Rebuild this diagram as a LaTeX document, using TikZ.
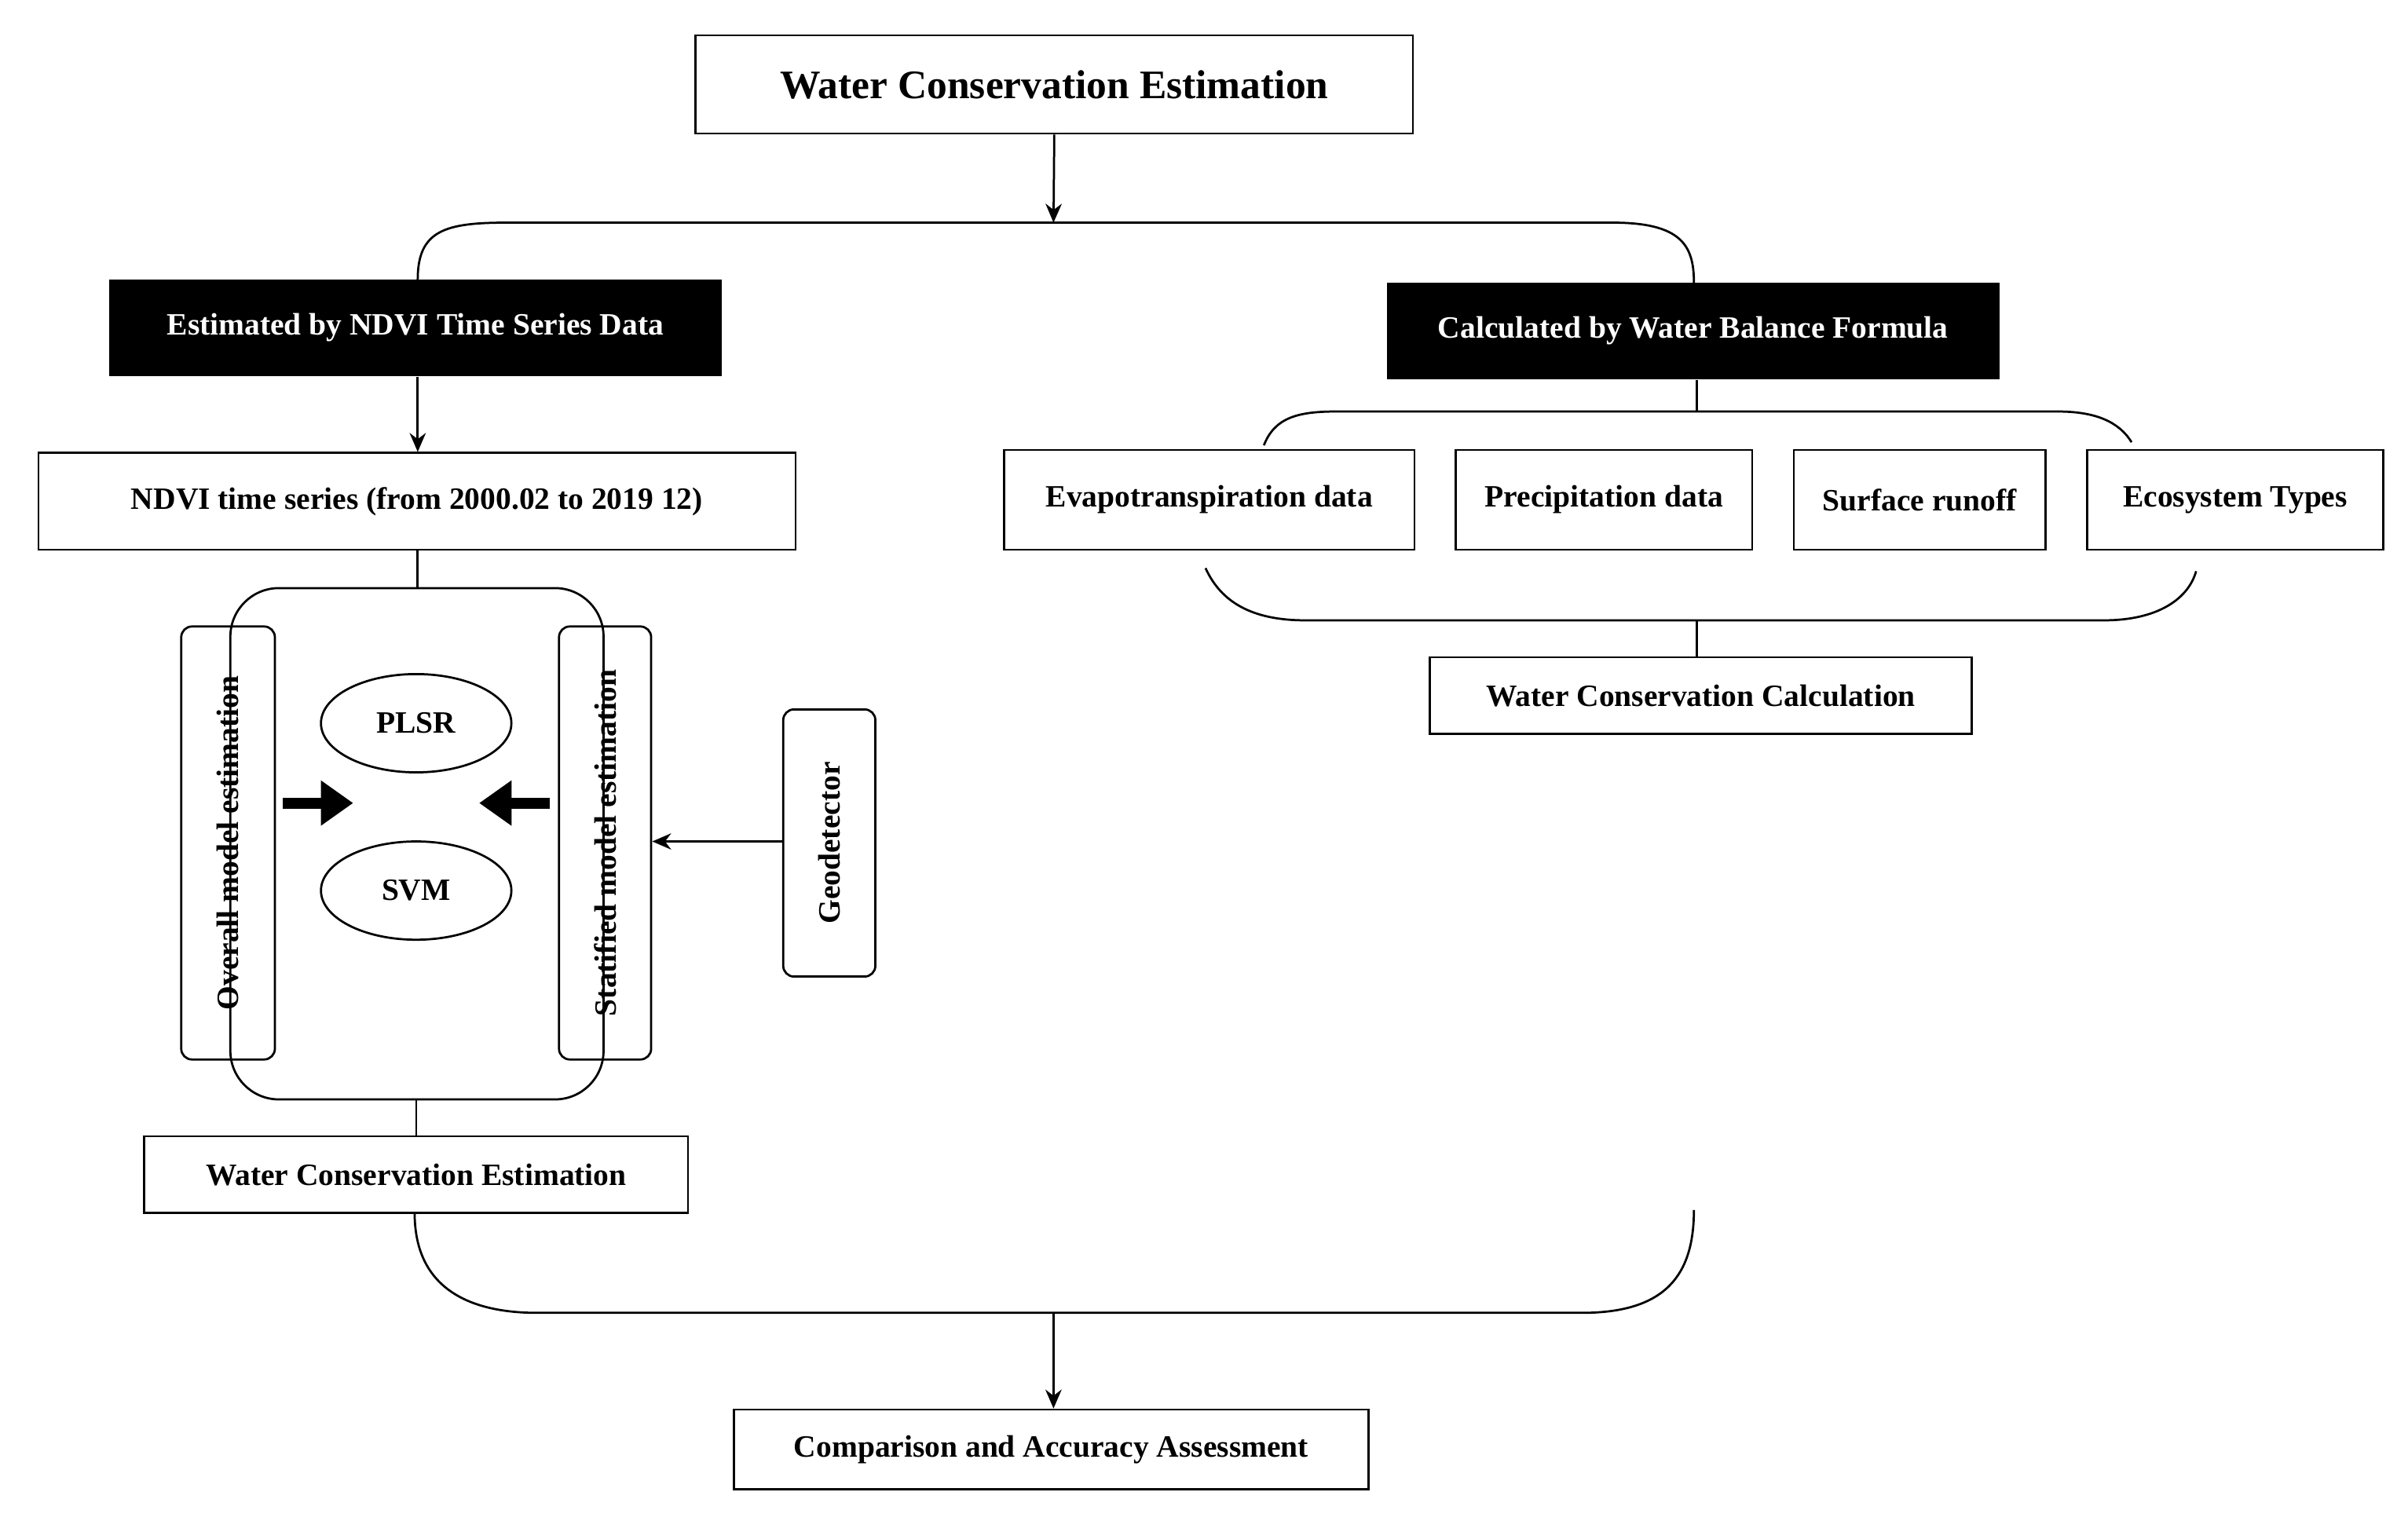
\documentclass[tikz,border=0pt]{standalone}
\usepackage{fontspec}
\setmainfont{Liberation Serif}
\usetikzlibrary{shapes.geometric,arrows.meta}
\begin{document}
\begin{tikzpicture}[x=0.02cm,y=-0.02cm,
  box/.style={draw,thick,font=\bfseries\fontsize{11.5}{13}\selectfont,inner sep=0},
  bbox/.style={fill=black,text=white,font=\bfseries\fontsize{11.5}{13}\selectfont,inner sep=0},
  vbox/.style={draw,thick,rounded corners=4pt,font=\bfseries\fontsize{11.5}{13}\selectfont,inner sep=0},
  ell/.style={draw,thick,ellipse,minimum width=124*0.02cm,minimum height=64*0.02cm,font=\bfseries\fontsize{11.5}{13}\selectfont},
  arr/.style={thick,-{Stealth[length=7pt,width=6pt]}},
  brace/.style={thick}]
\useasboundingbox (0,0) rectangle (1568,986);
% title
\node[box,minimum width=467*0.02cm,minimum height=64*0.02cm,font=\bfseries\fontsize{15}{17}\selectfont] (t) at (686.5,55) {Water Conservation Estimation};
\coordinate (tb) at (686,145);
\draw[arr] (t.south) -- (tb);
\node[bbox,minimum width=399*0.02cm,minimum height=63*0.02cm] (L) at (270.5,213.5) {Estimated by NDVI Time Series Data};
\node[bbox,minimum width=399*0.02cm,minimum height=63*0.02cm] (R) at (1102.5,215.5) {Calculated by Water Balance Formula};
\draw[brace] (272,182) .. controls (272,150) and (290,145) .. (330,145) -- (1050,145) .. controls (1095,145) and (1103,160) .. (1103,184);
% left branch
\node[box,minimum width=493*0.02cm,minimum height=63*0.02cm] (nd) at (271.5,326.5) {NDVI time series (from 2000.02 to 2019 12)};
\draw[arr] (L.south -| 272,0) -- (nd.north -| 272,0);
\node[draw,thick,rounded corners=18pt,minimum width=243*0.02cm,minimum height=333*0.02cm] (big) at (271.5,549.5) {};
\draw[thick] (nd.south -| 272,0) -- (big.north -| 272,0);
\node[vbox,minimum width=61*0.02cm,minimum height=282*0.02cm] (ov) at (148.5,549) {};
\node[rotate=90,font=\bfseries\fontsize{11.5}{13}\selectfont] at (ov) {Overall model estimation};
\node[vbox,minimum width=60*0.02cm,minimum height=282*0.02cm] (st) at (394,549) {};
\node[rotate=90,font=\bfseries\fontsize{11.5}{13}\selectfont] at (st) {Statified model estimation};
\node[ell] (p) at (271,471) {PLSR};
\node[ell] (s) at (271,580) {SVM};
\coordinate (a1) at (184,523); \coordinate (a2) at (230,523);
\coordinate (b1) at (358,523); \coordinate (b2) at (312,523);
\draw[line width=4pt,-{Triangle[length=12pt,width=16pt]}] (a1) -- (a2);
\draw[line width=4pt,-{Triangle[length=12pt,width=16pt]}] (b1) -- (b2);
\node[vbox,minimum width=60*0.02cm,minimum height=174*0.02cm] (g) at (540,549) {};
\node[rotate=90,font=\bfseries\fontsize{11.5}{13}\selectfont] at (g) {Geodetector};
\draw[arr] (g.west |- 0,548) -- (st.east |- 0,548);
\node[box,minimum width=354*0.02cm,minimum height=50*0.02cm] (we) at (271,765) {Water Conservation Estimation};
\draw[thick] (big.south -| 271,0) -- (we.north -| 271,0);
\draw[brace] (270,790) .. controls (270,835) and (300,855) .. (350,855) -- (1030,855) .. controls (1085,855) and (1103,830) .. (1103,788);
\coordinate (bb) at (686,855);
\node[box,minimum width=413*0.02cm,minimum height=52*0.02cm] (c) at (684.5,944) {Comparison and Accuracy Assessment};
\draw[arr] (bb) -- (c.north -| 686,0);
% right branch
\coordinate (rb) at (1105,268);
\draw[thick] (R.south -| 1105,0) -- (rb);
\draw[brace] (823,290) .. controls (830,272) and (845,268) .. (870,268) -- (1340,268) .. controls (1365,268) and (1380,275) .. (1388,288);
\node[box,minimum width=267*0.02cm,minimum height=65*0.02cm] (e1) at (787.5,325.5) {Evapotranspiration data};
\node[box,minimum width=193*0.02cm,minimum height=65*0.02cm] (e2) at (1044.5,325.5) {Precipitation data};
\node[box,minimum width=164*0.02cm,minimum height=65*0.02cm] (e3) at (1250,325.5) {Surface runoff};
\node[box,minimum width=193*0.02cm,minimum height=65*0.02cm] (e4) at (1455.5,325.5) {Ecosystem Types};
\draw[brace] (785,370) .. controls (795,392) and (815,404) .. (850,404) -- (1370,404) .. controls (1405,404) and (1425,390) .. (1430,372);
\node[box,minimum width=353*0.02cm,minimum height=50*0.02cm] (wc) at (1107.5,453) {Water Conservation Calculation};
\draw[thick] (1105,404) -- (wc.north -| 1105,0);
\end{tikzpicture}
\end{document}
